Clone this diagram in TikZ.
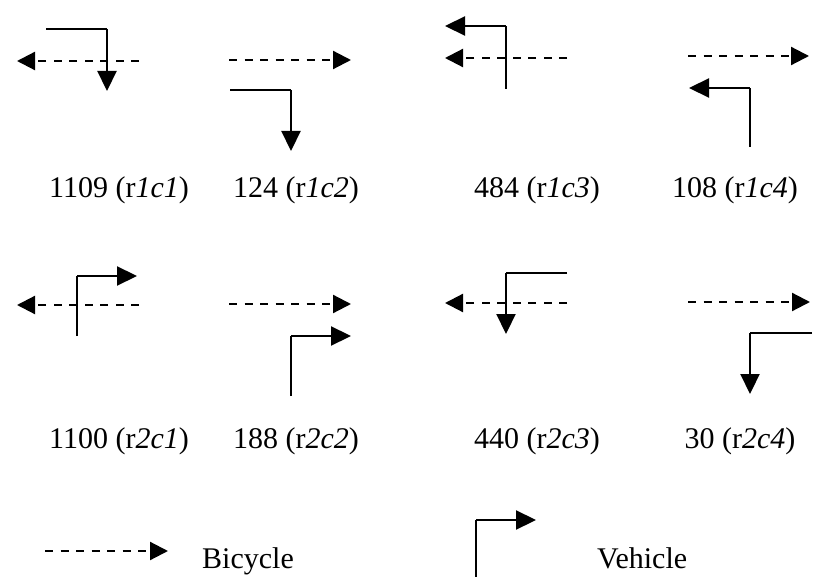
\documentclass[tikz,border=0pt]{standalone}
\usepackage{fontspec}
\setmainfont{Liberation Serif}
\usetikzlibrary{arrows.meta}
\tikzset{
  veh/.style={line width=2.2pt, -{Triangle[length=20pt,width=19pt]}},
  vehnotip/.style={line width=2.2pt},
  bic/.style={line width=2.2pt, dash pattern=on 8pt off 7.5pt, -{Triangle[length=18pt,width=18pt]}},
  lbl/.style={anchor=base, inner sep=0pt, font=\fontsize{30}{32}\selectfont},
  leg/.style={anchor=base west, inner sep=0pt, font=\fontsize{30}{32}\selectfont}
}
\begin{document}
\begin{tikzpicture}[x=1pt,y=-1pt]
\useasboundingbox (0,0) rectangle (819,577);
% ---- r1c1
\coordinate (v11s) at (46,29); \coordinate (v11c) at (107,29); \coordinate (v11e) at (107,91);
\coordinate (b11s) at (139,61); \coordinate (b11e) at (17,61);
\draw[vehnotip] (v11s) -- (v11c);
\draw[veh] (v11c) -- (v11e);
\draw[bic] (b11s) -- (b11e);
\node[lbl] (l11) at (119,198) {1109 (r\textit{1c1})};
% ---- r1c2
\coordinate (b12s) at (229,60); \coordinate (b12e) at (351,60);
\coordinate (v12s) at (230,90); \coordinate (v12c) at (291,90); \coordinate (v12e) at (291,151);
\draw[bic] (b12s) -- (b12e);
\draw[vehnotip] (v12s) -- (v12c);
\draw[veh] (v12c) -- (v12e);
\node[lbl] (l12) at (296,198) {124 (r\textit{1c2})};
% ---- r1c3
\coordinate (v13s) at (506,89); \coordinate (v13c) at (506,26); \coordinate (v13e) at (445,26);
\coordinate (b13s) at (567,58); \coordinate (b13e) at (445,58);
\draw[vehnotip] (v13s) -- (v13c);
\draw[veh] (v13c) -- (v13e);
\draw[bic] (b13s) -- (b13e);
\node[lbl] (l13) at (537,198) {484 (r\textit{1c3})};
% ---- r1c4
\coordinate (b14s) at (688,56); \coordinate (b14e) at (809,56);
\coordinate (v14s) at (750,147); \coordinate (v14c) at (750,88); \coordinate (v14e) at (689,88);
\draw[bic] (b14s) -- (b14e);
\draw[vehnotip] (v14s) -- (v14c);
\draw[veh] (v14c) -- (v14e);
\node[lbl] (l14) at (735,198) {108 (r\textit{1c4})};
% ---- r2c1
\coordinate (v21s) at (77,336); \coordinate (v21c) at (77,276); \coordinate (v21e) at (137,276);
\coordinate (b21s) at (139,305); \coordinate (b21e) at (17,305);
\draw[vehnotip] (v21s) -- (v21c);
\draw[veh] (v21c) -- (v21e);
\draw[bic] (b21s) -- (b21e);
\node[lbl] (l21) at (119,448) {1100 (r\textit{2c1})};
% ---- r2c2
\coordinate (b22s) at (229,304); \coordinate (b22e) at (351,304);
\coordinate (v22s) at (291,396); \coordinate (v22c) at (291,336); \coordinate (v22e) at (351,336);
\draw[bic] (b22s) -- (b22e);
\draw[vehnotip] (v22s) -- (v22c);
\draw[veh] (v22c) -- (v22e);
\node[lbl] (l22) at (296,448) {188 (r\textit{2c2})};
% ---- r2c3
\coordinate (v23s) at (567,273); \coordinate (v23c) at (506,273); \coordinate (v23e) at (506,334);
\coordinate (b23s) at (567,303); \coordinate (b23e) at (445,303);
\draw[vehnotip] (v23s) -- (v23c);
\draw[veh] (v23c) -- (v23e);
\draw[bic] (b23s) -- (b23e);
\node[lbl] (l23) at (537,448) {440 (r\textit{2c3})};
% ---- r2c4
\coordinate (b24s) at (688,302); \coordinate (b24e) at (810,302);
\coordinate (v24s) at (812,333); \coordinate (v24c) at (750,333); \coordinate (v24e) at (750,394);
\draw[bic] (b24s) -- (b24e);
\draw[vehnotip] (v24s) -- (v24c);
\draw[veh] (v24c) -- (v24e);
\node[lbl] (l24) at (740,448) {30 (r\textit{2c4})};
% ---- legend
\coordinate (lbs) at (45,551); \coordinate (lbe) at (168,551);
\draw[bic] (lbs) -- (lbe);
\node[leg] (lbt) at (202,568) {Bicycle};
\coordinate (lvs) at (476,577); \coordinate (lvc) at (476,520); \coordinate (lve) at (536,520);
\draw[vehnotip] (lvs) -- (lvc);
\draw[veh] (lvc) -- (lve);
\node[leg] (lvt) at (597,568) {Vehicle};
\end{tikzpicture}
\end{document}
